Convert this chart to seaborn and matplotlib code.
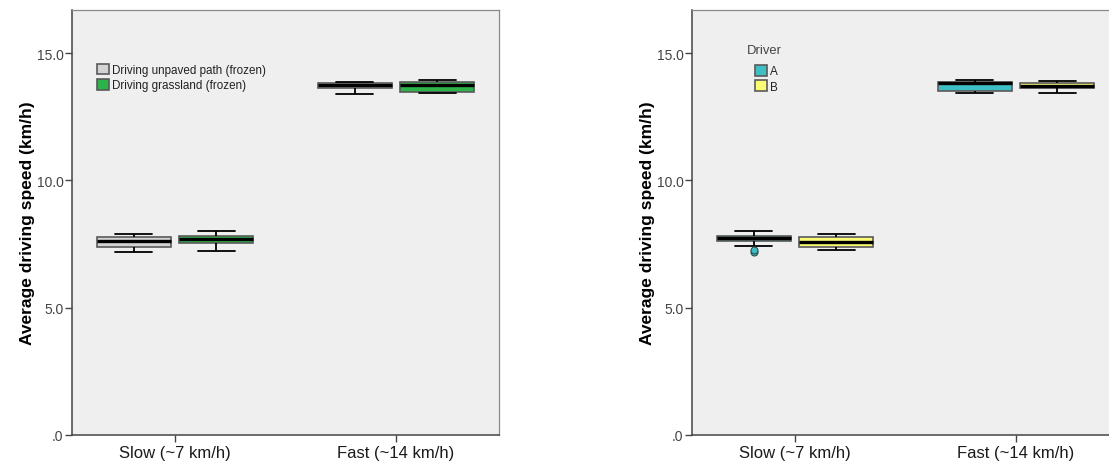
import matplotlib
matplotlib.use("Agg")
import matplotlib.pyplot as plt
import pandas as pd
import seaborn as sns

# Speed categories on the x axis
speed_groups = ["Slow (~7 km/h)", "Fast (~14 km/h)"]

# Surface comparison (left panel): measured average speeds per run (km/h)
surfaces = ["Driving unpaved path (frozen)", "Driving grassland (frozen)"]
unpaved_slow = [7.20, 7.37, 7.63, 7.79, 7.91]
grass_slow = [7.24, 7.55, 7.70, 7.83, 8.00]
unpaved_fast = [13.40, 13.61, 13.73, 13.82, 13.85]
grass_fast = [13.45, 13.47, 13.74, 13.85, 13.95]

# Driver comparison (right panel): measured average speeds per run (km/h)
drivers = ["A", "B"]
driver_a_slow = [7.19, 7.26, 7.41, 7.62, 7.64, 7.68, 7.72, 7.75, 7.78, 7.80, 7.86, 7.93, 8.00]
driver_b_slow = [7.25, 7.40, 7.59, 7.77, 7.91]
driver_a_fast = [13.42, 13.49, 13.82, 13.85, 13.95]
driver_b_fast = [13.43, 13.61, 13.69, 13.82, 13.91]

y_ticks = [0, 5, 10, 15]
y_tick_labels = [".0", "5.0", "10.0", "15.0"]

surface_colors = ["#d3d3d3", "#2eb34b"]
driver_colors = ["#3ebfc4", "#fbfb73"]


def long_table(level_name, levels, series):
    rows = []
    for (group, level), values in zip(
        [(g, l) for g in speed_groups for l in levels], series
    ):
        for v in values:
            rows.append({"speed_group": group, level_name: level, "speed": v})
    return pd.DataFrame(rows)


surface_df = long_table(
    "surface", surfaces, [unpaved_slow, grass_slow, unpaved_fast, grass_fast]
)
driver_df = long_table(
    "driver", drivers, [driver_a_slow, driver_b_slow, driver_a_fast, driver_b_fast]
)

sns.set_style("ticks")
plt.rcParams["font.family"] = ["Liberation Sans", "DejaVu Sans"]

W, H = 1109, 464
fig = plt.figure(figsize=(W / 100, H / 100), dpi=100)
fig.patch.set_facecolor("white")


def px_axes(left, top, right, bottom):
    return fig.add_axes([left / W, 1 - bottom / H, (right - left) / W, (bottom - top) / H])


ax_left = px_axes(72, 11, 499, 436)
ax_right = px_axes(692, 11, 1119, 436)

box_kws = dict(
    x="speed_group", y="speed", order=speed_groups,
    width=0.744, gap=0.1, saturation=1, linewidth=1.3, linecolor="black",
    boxprops=dict(edgecolor="#5a5a5a", linewidth=1.2),
    medianprops=dict(color="black", linewidth=2.4),
    whiskerprops=dict(color="black", linewidth=1.3),
    capprops=dict(color="black", linewidth=1.3),
    flierprops=dict(marker="o", markerfacecolor=driver_colors[0],
                    markeredgecolor="#2f4f4f", markersize=5, markeredgewidth=0.8),
)

sns.boxplot(data=surface_df, hue="surface", hue_order=surfaces,
            palette=surface_colors, ax=ax_left, **box_kws)
sns.boxplot(data=driver_df, hue="driver", hue_order=drivers,
            palette=driver_colors, ax=ax_right, **box_kws)

for ax in (ax_left, ax_right):
    ax.set_facecolor("#efefef")
    ax.set_xlim(-0.466, 1.466)
    ax.set_ylim(0, 16.69)
    ax.set_yticks(y_ticks, y_tick_labels)
    ax.set_xlabel("")
    ax.set_ylabel("Average driving speed (km/h)", fontsize=12.5,
                  fontweight="bold", color="black")
    ax.yaxis.set_label_coords(-0.087, 0.5)
    ax.tick_params(axis="y", length=5, width=1, color="#444444", pad=1,
                   labelsize=10, labelcolor="#444444")
    ax.tick_params(axis="x", length=5, width=1, color="#444444", pad=2,
                   labelsize=12, labelcolor="#1a1a1a")
    for side in ("left", "bottom"):
        ax.spines[side].set_color("#444444")
        ax.spines[side].set_linewidth(1.1)
    for side in ("top", "right"):
        ax.spines[side].set_visible(True)
        ax.spines[side].set_color("#8a8a8a")
        ax.spines[side].set_linewidth(0.9)

legend_kws = dict(frameon=False, fontsize=8.4, handlelength=1.0, handleheight=1.0,
                  handletextpad=0.25, labelspacing=0.25, borderpad=0,
                  borderaxespad=0, title=None)
sns.move_legend(ax_left, "upper left", bbox_to_anchor=(0.0585, 0.873), **legend_kws)
sns.move_legend(ax_right, "upper left", bbox_to_anchor=(0.148, 0.870), **legend_kws)
ax_right.text(0.169, 0.906, "Driver", transform=ax_right.transAxes,
              ha="center", va="center", fontsize=9.4, color="#444444")
for ax in (ax_left, ax_right):
    for t in ax.get_legend().get_texts():
        t.set_color("#222222")

fig.savefig("out.png", dpi=100)
